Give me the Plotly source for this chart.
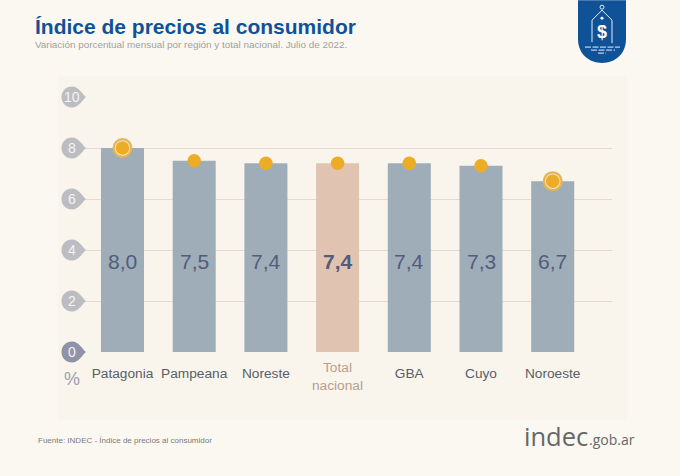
import plotly.graph_objects as go

categories = ['Patagonia', 'Pampeana', 'Noreste', 'Total nacional', 'GBA', 'Cuyo', 'Noroeste']
values = [8.0, 7.5, 7.4, 7.4, 7.4, 7.3, 6.7]
y_ticks = [0, 2, 4, 6, 8, 10]
ringed = ['Patagonia', 'Noroeste']
total_name = 'Total nacional'

W, H = 680, 476
L, R, T, B = 85, 68, 97, 123.5
BLUE = '#0f5298'
positions = list(range(len(categories)))


# pixel position in the picture -> paper coords
def px(x):
    return (x - L) / (W - L - R)


def py(y):
    return 1 - (y - T) / (H - T - B)


bar_colors = ['#e1c3b1' if c == total_name else '#9fadb8' for c in categories]

fig = go.Figure()
fig.add_bar(x=positions, y=values, marker_color=bar_colors, marker_line_width=0, width=0.6, hoverinfo='skip')

# rings round highest and lowest
ring_x = [i for i, c in enumerate(categories) if c in ringed]
ring_y = [values[i] for i in ring_x]
fig.add_scatter(x=ring_x, y=ring_y, mode='markers', cliponaxis=False, hoverinfo='skip',
                marker=dict(size=20, color='#e6b356'))
fig.add_scatter(x=ring_x, y=ring_y, mode='markers', cliponaxis=False, hoverinfo='skip',
                marker=dict(size=15.5, color='#f7e6c0'))
fig.add_scatter(x=positions, y=values, mode='markers', cliponaxis=False, hoverinfo='skip',
                marker=dict(size=13.5, color='#ecac25'))

ticktext = ['' if c == total_name else c for c in categories]
fig.update_xaxes(range=[-0.523, 6.827], tickvals=positions, ticktext=ticktext, showgrid=False,
                 zeroline=False, showline=False, ticks='outside', ticklen=9,
                 tickcolor='rgba(0,0,0,0)', tickfont=dict(size=13.7, color='#585d68'))
fig.update_yaxes(range=[0, 10], tickvals=y_ticks, showticklabels=False, gridcolor='#e2dcd0',
                 gridwidth=1, zeroline=False, showline=False)

# panel behind the plot
fig.add_shape(type='rect', xref='paper', yref='paper', x0=px(58), x1=px(627), y0=py(421), y1=py(76),
              fillcolor='#f9f5ec', line_width=0, layer='below')

# drop shaped badges for the y ticks
drop = 'M 1 0 C -3 -3 -6 -10.5 -13 -10.5 C -19 -10.5 -23.5 -6 -23.5 0 C -23.5 6 -19 10.5 -13 10.5 C -6 10.5 -3 3 1 0 Z'
for t in y_ticks:
    fig.add_shape(type='path', xref='paper', yref='paper', xsizemode='pixel', ysizemode='pixel',
                  xanchor=0, yanchor=t / 10, path=drop, line_width=0,
                  fillcolor='#8f92a8' if t == 0 else '#bcbdc3', layer='above')
    fig.add_annotation(xref='paper', yref='y', x=0, y=t, xanchor='center', xshift=-13, text=str(t),
                       showarrow=False, font=dict(size=14, color='#f6f4ee'))

# values inside the bars
for i, v in enumerate(values):
    label = f'{v:.1f}'.replace('.', ',')
    if categories[i] == total_name:
        label = f'<b>{label}</b>'
    fig.add_annotation(x=i, y=3.55, text=label, showarrow=False, font=dict(size=21, color='#525c7e'))

fig.add_annotation(x=3, xref='x', yref='paper', y=py(377), yanchor='middle', text=total_name.replace(' ', '<br>'),
                   showarrow=False, font=dict(size=13.7, color='#b79e8e'))


def add_text(x, y, text, size, color, family='Liberation Sans', anchor='left'):
    fig.add_annotation(xref='paper', yref='paper', x=px(x), y=py(y), text=text, showarrow=False,
                       xanchor=anchor, yanchor='middle', font=dict(size=size, color=color, family=family))


add_text(72, 380, '%', 18, '#9b9fb2', anchor='center')
add_text(33, 26, '<b>Índice de precios al consumidor</b>', 21, BLUE)
add_text(33, 44, 'Variación porcentual mensual por región y total nacional. Julio de 2022.', 9.9, '#a0a0a0')
add_text(36, 441, 'Fuente: INDEC - Índice de precios al consumidor', 8, '#7a7a7a')
add_text(522, 436.5, 'indec', 25.5, '#666666', family='Open Sans')
add_text(587, 440, '.gob.ar', 14, '#666666', family='Open Sans')

# price tag emblem top right
fig.add_shape(type='path', xref='paper', yref='paper', line_width=0, fillcolor=BLUE, layer='above',
              path=f'M {px(578)} {py(0)} L {px(626)} {py(0)} L {px(626)} {py(39)} '
                   f'C {px(626)} {py(54)} {px(615)} {py(63)} {px(602)} {py(63)} '
                   f'C {px(589)} {py(63)} {px(578)} {py(54)} {px(578)} {py(39)} Z')
fig.add_shape(type='path', xref='paper', yref='paper', line=dict(color='#e8eef5', width=1), layer='above',
              path=f'M {px(592)} {py(42)} L {px(592)} {py(20)} L {px(602)} {py(10)} L {px(612)} {py(20)} L {px(612)} {py(43)}')
fig.add_shape(type='circle', xref='paper', yref='paper', x0=px(600), x1=px(604), y0=py(9), y1=py(5),
              line=dict(color='#e8eef5', width=1), layer='above')
fig.add_shape(type='circle', xref='paper', yref='paper', x0=px(600.5), x1=px(603.5), y0=py(19.5), y1=py(16.5),
              fillcolor='#ffffff', line_width=0, layer='above')
for x0, x1, y in [(585, 620, 47), (591, 615, 50), (598, 606, 53)]:
    fig.add_shape(type='line', xref='paper', yref='paper', x0=px(x0), x1=px(x1), y0=py(y), y1=py(y),
                  line=dict(color='#e8eef5', width=1, dash='6px,1.5px'), layer='above')
add_text(602, 32, '<b>$</b>', 18, '#ffffff', anchor='center')

fig.update_layout(width=W, height=H, autosize=False, showlegend=False,
                  margin=dict(l=L, r=R, t=T, b=B, pad=0), paper_bgcolor='#fbf8f2', plot_bgcolor='rgba(0,0,0,0)',
                  font=dict(family='Liberation Sans'))

# the page's default body margin would shift the figure
fig.write_html('out.html', config=dict(displayModeBar=False), post_script="document.body.style.margin='0';")
